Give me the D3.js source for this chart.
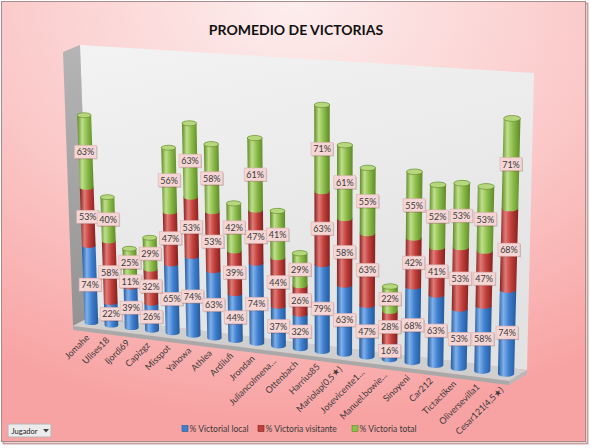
<!DOCTYPE html>
<html>
<head>
<meta charset="utf-8">
<style>
  body { margin: 0; background: #fff; }
  svg { display: block; font-family: Lato, 'Open Sans', sans-serif; }
</style>
<script src="https://cdn.jsdelivr.net/npm/d3@7"></script>
</head>
<body>
<div id="chart"></div>
<script>
// data
const jugadores = ['Jomahe', 'Ulises18', 'Ijordi69', 'Capizgz', 'Misspot', 'Yahowa', 'Athlea', 'Ardilufi',
  'Jrondan', 'Juliancolmena…', 'Ottenbach', 'Harrius85', 'Mariolap(0,5★)', 'Josevicente1…',
  'Manuel.bowie…', 'Sinoyeni', 'Car212', 'Tictactiken', 'Oliversevilla1', 'Cesar121(4,5★)'];
const victoriaLocal = [74, 22, 39, 26, 65, 74, 63, 44, 74, 37, 32, 79, 63, 47, 16, 68, 63, 53, 58, 74];
const victoriaVisitante = [53, 58, 11, 32, 47, 53, 53, 39, 47, 44, 26, 63, 58, 63, 28, 42, 41, 53, 47, 68];
const victoriaTotal = [63, 40, 25, 29, 56, 63, 58, 42, 61, 41, 29, 71, 61, 55, 22, 55, 52, 53, 53, 71];
const seriesNames = ['% Victorial local', '% Victoria visitante', '% Victoria total'];
const keys = ['local', 'visitante', 'total'];

const width = 590;
const height = 448;

// colours per series: [dark edge, highlight, body]
const palette = {
  local: ['#245a9c', '#7fb0ea', '#3f7fcf'],
  visitante: ['#85201d', '#e07a76', '#c2403c'],
  total: ['#5e8a26', '#c0df8c', '#8dbd4b']
};
const capColor = '#b7d77f';

// the 3d box (plot area) as seen on screen: front face z=0, back face z=1
const box = {
  front: { tl: [63, 52], bl: [73, 326], tr: [517, 81], br: [509, 381] },
  back: { tl: [80, 45], bl: [90, 317], tr: [534, 73], br: [527, 370] }
};

const table = jugadores.map((j, i) => ({
  jugador: j,
  local: victoriaLocal[i],
  visitante: victoriaVisitante[i],
  total: victoriaTotal[i]
}));

const xScale = d3.scaleBand().domain(jugadores).range([0, 1]).paddingInner(0.32).paddingOuter(0.16);
const yScale = d3.scaleLinear().domain([0, 245]).range([0, 1]);

// simple perspective warp, things grow to the right and upward
const persp = (t, k) => t / (k - (k - 1) * t);
const lerp = (a, b, t) => [a[0] + (b[0] - a[0]) * t, a[1] + (b[1] - a[1]) * t];

function project(u, v, z) {
  const g = persp(u, 1.1);
  const f = persp(v, 1.1);
  const onFace = (face) => lerp(lerp(face.bl, face.br, g), lerp(face.tl, face.tr, g), f);
  return lerp(onFace(box.front), onFace(box.back), z);
}

function cylEnd(uc, r, value) {
  const pl = project(uc - r, yScale(value), 0.5);
  const pr = project(uc + r, yScale(value), 0.5);
  const rx = (pr[0] - pl[0]) / 2;
  return { x: (pl[0] + pr[0]) / 2, y: (pl[1] + pr[1]) / 2, rx: rx, ry: rx * 0.35 };
}

const svg = d3.select('#chart')
  .append('svg')
  .attr('width', width)
  .attr('height', height);

const defs = svg.append('defs');

const bg = defs.append('radialGradient').attr('id', 'bg')
  .attr('cx', '50%').attr('cy', '0%').attr('r', '95%');
bg.append('stop').attr('offset', '0%').attr('stop-color', '#fdeeee');
bg.append('stop').attr('offset', '55%').attr('stop-color', '#fbc9c9');
bg.append('stop').attr('offset', '100%').attr('stop-color', '#f8a3a3');

const wall = defs.append('linearGradient').attr('id', 'wall').attr('x1', 0).attr('y1', 0).attr('x2', 0.3).attr('y2', 1);
wall.append('stop').attr('offset', '0%').attr('stop-color', '#f3f3f3');
wall.append('stop').attr('offset', '100%').attr('stop-color', '#e2e2e2');

const side = defs.append('linearGradient').attr('id', 'side').attr('x1', 0).attr('y1', 0).attr('x2', 0).attr('y2', 1);
side.append('stop').attr('offset', '0%').attr('stop-color', '#b5b5b5');
side.append('stop').attr('offset', '100%').attr('stop-color', '#939393');

keys.forEach((k) => {
  const [dark, light, body] = palette[k];
  const gr = defs.append('linearGradient').attr('id', 'cyl-' + k).attr('x1', 0).attr('x2', 1).attr('y1', 0).attr('y2', 0);
  gr.append('stop').attr('offset', '0%').attr('stop-color', dark);
  gr.append('stop').attr('offset', '30%').attr('stop-color', light);
  gr.append('stop').attr('offset', '60%').attr('stop-color', body);
  gr.append('stop').attr('offset', '100%').attr('stop-color', dark);
});

// chart background + border
svg.append('rect')
  .attr('x', 2.5).attr('y', 2.5).attr('width', 584).attr('height', 440)
  .attr('fill', 'none').attr('stroke', '#c9a3a3').attr('stroke-width', 2)
  .attr('transform', 'translate(1,1)');
svg.append('rect')
  .attr('x', 1.5).attr('y', 1.5).attr('width', 584).attr('height', 440)
  .attr('fill', 'url(#bg)').attr('stroke', '#a98b8b');

svg.append('text')
  .attr('x', 296).attr('y', 35)
  .attr('text-anchor', 'middle')
  .attr('font-size', 14).attr('font-weight', 'bold').attr('fill', '#111')
  .text('PROMEDIO DE VICTORIAS');

// walls and floor
const poly = (pts) => 'M' + pts.map((p) => p.join(',')).join('L') + 'Z';
const F = box.front, B = box.back;

svg.append('path').attr('d', poly([B.tl, B.tr, B.br, B.bl])).attr('fill', 'url(#wall)');
svg.append('path').attr('d', poly([F.tl, B.tl, B.bl, F.bl])).attr('fill', 'url(#side)');
svg.append('path').attr('d', poly([F.bl, F.br, B.br, B.bl])).attr('fill', '#cfcfcf');
svg.append('path')
  .attr('d', poly([F.bl, F.br, [F.br[0], F.br[1] + 4], [F.bl[0], F.bl[1] + 4]]))
  .attr('fill', '#a9a9a9');
svg.append('path')
  .attr('d', poly([F.br, B.br, [B.br[0], B.br[1] + 4], [F.br[0], F.br[1] + 4]]))
  .attr('fill', '#b8b8b8');

// stacked cylinders
const series = d3.stack().keys(keys)(table);
const r = xScale.bandwidth() / 2;
const bars = svg.append('g').attr('class', 'bars');

series.forEach((s) => {
  bars.append('g').selectAll('path')
    .data(s)
    .join('path')
    .attr('fill', 'url(#cyl-' + s.key + ')')
    .attr('d', (d) => {
      const uc = xScale(d.data.jugador) + r;
      const b = cylEnd(uc, r, d[0]);
      const t = cylEnd(uc, r, d[1]);
      return `M${t.x - t.rx},${t.y} A${t.rx},${t.ry} 0 0 1 ${t.x + t.rx},${t.y}` +
        ` L${b.x + b.rx},${b.y} A${b.rx},${b.ry} 0 0 1 ${b.x - b.rx},${b.y} Z`;
    });
});

// top caps
const topSeries = series[series.length - 1];
bars.append('g').selectAll('ellipse')
  .data(topSeries)
  .join('ellipse')
  .each(function (d) {
    const t = cylEnd(xScale(d.data.jugador) + r, r, d[1]);
    d3.select(this).attr('cx', t.x).attr('cy', t.y).attr('rx', t.rx).attr('ry', t.ry);
  })
  .attr('fill', capColor)
  .attr('stroke', palette.total[0])
  .attr('stroke-width', 0.6);

// data labels in the middle of each segment
const labels = svg.append('g').attr('class', 'labels');
series.forEach((s) => {
  s.forEach((d) => {
    const c = cylEnd(xScale(d.data.jugador) + r, r, (d[0] + d[1]) / 2);
    const g = labels.append('g').attr('transform', `translate(${c.x},${c.y})`);
    g.append('rect').attr('x', -10).attr('y', -5.5).attr('width', 22).attr('height', 13)
      .attr('fill', 'rgba(80,40,40,0.25)');
    g.append('rect').attr('x', -11).attr('y', -6.5).attr('width', 22).attr('height', 13)
      .attr('fill', '#f5d6d5').attr('stroke', '#dcb2b1').attr('stroke-width', 0.6);
    g.append('text').attr('y', 3.5).attr('text-anchor', 'middle')
      .attr('font-size', 9).attr('fill', '#3a3a3a')
      .text(d.data[s.key] + '%');
  });
});

// category axis labels along the front edge of the floor
svg.append('g').attr('class', 'x-labels')
  .selectAll('text')
  .data(jugadores)
  .join('text')
  .attr('transform', (j) => {
    const p = project(xScale(j) + r, 0, 0);
    return `translate(${p[0] + 7},${p[1] + 11}) rotate(-45)`;
  })
  .attr('text-anchor', 'end')
  .attr('font-size', 9)
  .attr('fill', '#3a3a3a')
  .text((j) => j);

// legend
const legendX = [182, 258, 352];
const legend = svg.append('g').attr('class', 'legend');
seriesNames.forEach((name, i) => {
  legend.append('rect')
    .attr('x', legendX[i]).attr('y', 425.5).attr('width', 6).attr('height', 6)
    .attr('fill', palette[keys[i]][2]).attr('stroke', palette[keys[i]][0]).attr('stroke-width', 0.6);
  legend.append('text')
    .attr('x', legendX[i] + 7.5).attr('y', 432)
    .attr('font-size', 8.5).attr('fill', '#3a3a3a')
    .text(name);
});

// field button in the corner
const btn = svg.append('g').attr('transform', 'translate(8,424)');
btn.append('rect').attr('width', 43).attr('height', 13).attr('rx', 1.5)
  .attr('fill', '#ececec').attr('stroke', '#b5b5b5');
btn.append('text').attr('x', 3.5).attr('y', 9.5).attr('font-size', 7.5).attr('fill', '#222').text('Jugador');
btn.append('path').attr('d', 'M35,5 L41,5 L38,8.5 Z').attr('fill', '#444');
</script>
</body>
</html>
